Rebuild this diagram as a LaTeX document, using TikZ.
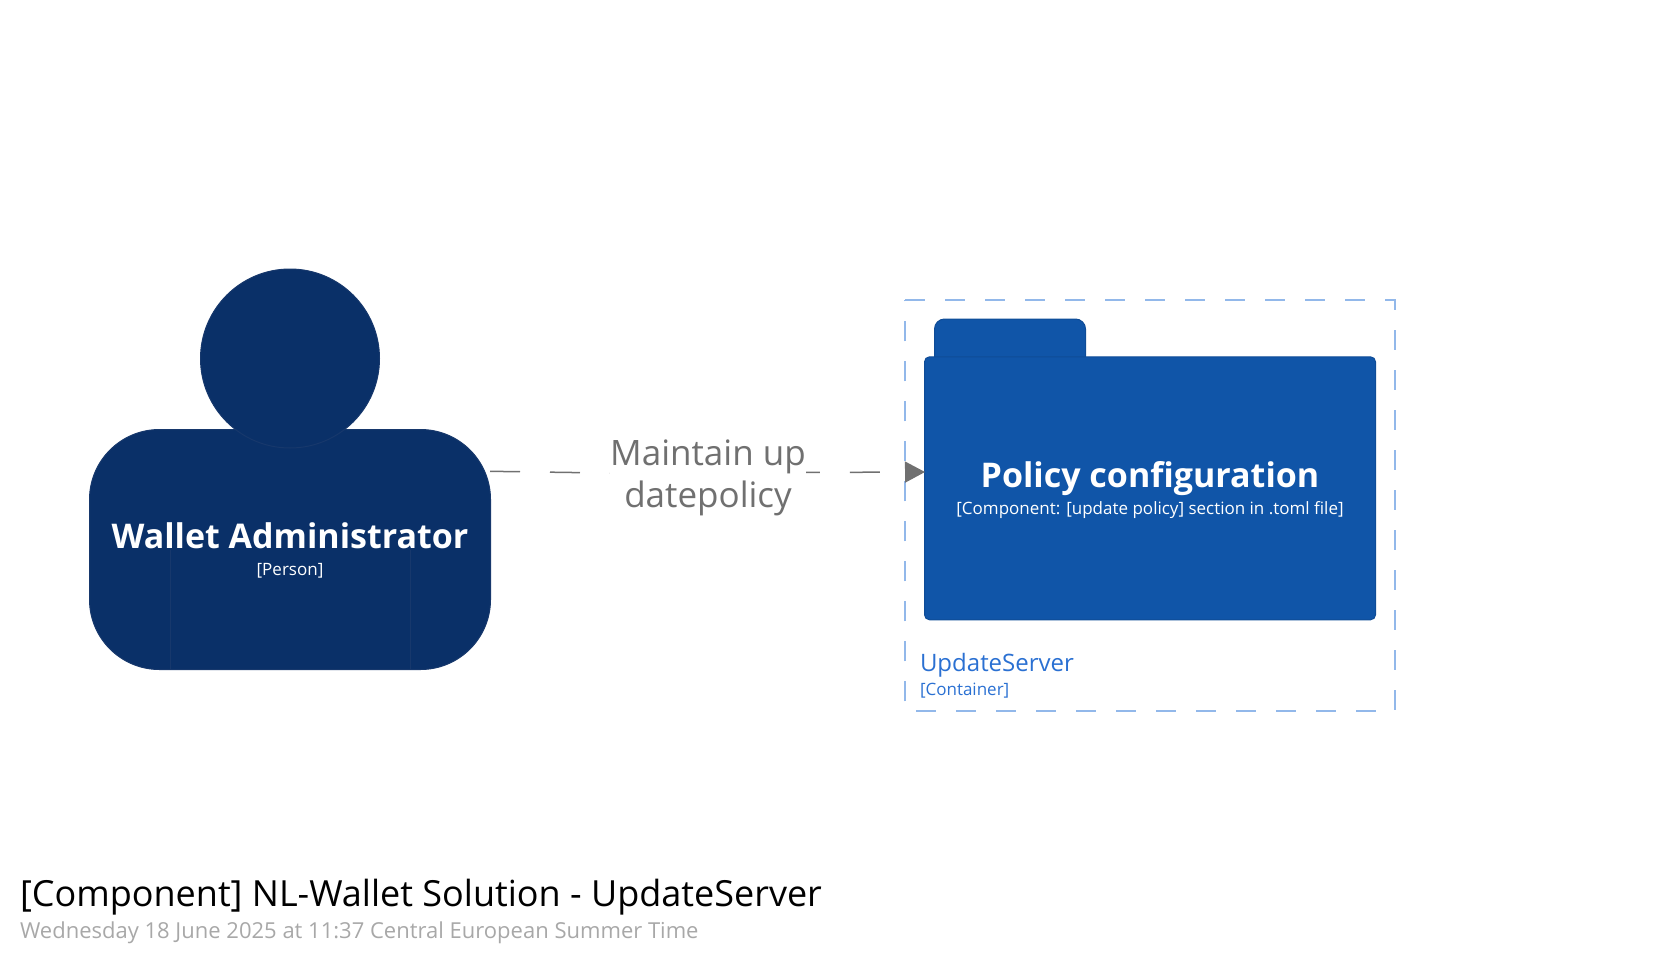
\documentclass[tikz,border=0pt]{standalone}
\usepackage{fontspec}
\setmainfont{Open Sans}
\usetikzlibrary{arrows.meta,calc}
\definecolor{person}{HTML}{0A3068}
\definecolor{personline}{HTML}{17386C}
\definecolor{comp}{HTML}{1055A8}
\definecolor{compline}{HTML}{0F4C97}
\definecolor{bound}{HTML}{92B8EA}
\definecolor{contxt}{HTML}{2A70D2}
\definecolor{edge}{HTML}{707070}
\definecolor{datetxt}{HTML}{A8A8A8}
\newcommand{\fs}[1]{\fontsize{#1}{#1}\selectfont}
\tikzset{
  x=1pt,y=-1pt,
  personshape/.style={fill=person,draw=personline,line width=1pt,inner sep=0pt,outer sep=0pt},
  compshape/.style={fill=comp,draw=compline,line width=1pt,inner sep=0pt,outer sep=0pt},
  boundary/.style={draw=bound,line width=2pt,dash pattern=on 20pt off 20pt,inner sep=0pt,outer sep=0pt},
  txt/.style={inner sep=0pt,outer sep=0pt,anchor=base},
  txtw/.style={txt,anchor=base west},
  rel/.style={draw=edge,line width=1.5pt,dash pattern=on 30pt off 30pt,-{Triangle[length=20pt,width=21pt,fill=edge]}},
}
\begin{document}
\begin{tikzpicture}
\useasboundingbox (0,0) rectangle (1670,958);
% person
\node[personshape,rounded corners=70pt,minimum width=401pt,minimum height=240pt] (body) at (290,549.5) {};
\draw[personline,line width=1pt] (170,550) -- (170,669.5) (410,550) -- (410,669.5);
\node[personshape,circle,minimum size=179pt] (head) at (290,358.5) {};
\node[txt,white,font=\fs{34}\bfseries] (pname) at (290,548) {Wallet Administrator};
\node[txt,white,font=\fs{17}] (ptype) at (290,575.3) {[Person]};
% boundary
\draw[boundary] (905,300) -- (1395,300) -- (1395,710.7) -- (905,710.7) -- cycle;
\node[txtw,contxt,font=\fs{24}] (cname) at (920,671.7) {UpdateServer};
\node[txtw,contxt,font=\fs{17}] (ctype) at (920,695.4) {[Container]};
% folder
\node[compshape,rounded corners=10pt,minimum width=151pt,minimum height=50pt] (tab) at (1010,344) {};
\node[compshape,rounded corners=5pt,minimum width=451pt,minimum height=263pt] (folder) at (1150,488.3) {};
\node[txt,white,font=\fs{34}\bfseries] (fname) at (1150,487.5) {Policy configuration};
\node[txt,white,font=\fs{17}] (ftype) at (1150,514) {[Component: [update policy] section in .toml file]};
% relationship
\coordinate (from) at (490,471.3);
\coordinate (bend) at (620,473.2);
\coordinate (to) at (925,472);
\draw[rel] (from) -- (bend) -- (to);
\node[fill=white,inner sep=0pt,outer sep=0pt,align=center,text=edge,font=\fontsize{35}{41.5}\selectfont] (rlabel) at (708,478) {Maintain up\\datepolicy};
% title
\node[txtw,black,font=\fs{36}] (title) at (20,906.7) {[Component] NL-Wallet Solution - UpdateServer};
\node[txtw,datetxt,font=\fs{22}] (date) at (20,938) {Wednesday 18 June 2025 at 11:37 Central European Summer Time};
\end{tikzpicture}
\end{document}
